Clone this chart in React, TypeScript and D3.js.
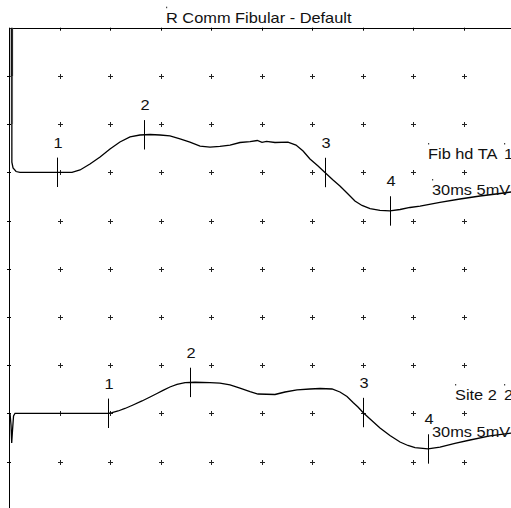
import React from "react";
import { scaleLinear, line, range } from "d3";

// time (ms) and amplitude (mV, relative to baseline)
const topTimes = [1.7, 1.7, 2.4, 4.2, 6.5, 37.4, 42.2, 48.1, 54.1, 60.0, 65.9, 71.9, 77.8, 83.8, 89.7, 95.6, 101.6, 107.5, 113.5, 119.4, 125.3, 131.3, 137.2, 143.2, 147.5, 150.3, 153.0, 158.0, 165.7, 170.5, 174.7, 178.8, 183.6, 187.7, 192.5, 196.6, 201.4, 205.5, 209.7, 214.5, 220.4, 226.3, 232.3, 238.2, 244.2, 256.0, 267.9, 279.8, 291.7, 300.6];
const topValues = [16, 1.06, 0.45, 0.08, 0, 0, 0.24, 0.86, 1.59, 2.42, 3.14, 3.67, 3.87, 3.92, 3.87, 3.77, 3.46, 3.14, 2.72, 2.62, 2.68, 2.83, 3.09, 3.19, 3.3, 3.1, 3.2, 3.09, 3.14, 2.83, 2.21, 1.38, 0.65, -0.02, -0.8, -1.42, -2.25, -2.98, -3.44, -3.76, -3.96, -4.01, -3.86, -3.65, -3.5, -3.13, -2.77, -2.46, -2.2, -1.99];

const bottomTimes = [0.6, 1.2, 1.6, 2.1, 2.7, 3.6, 58.8, 61.2, 64.8, 68.9, 73.7, 79.0, 83.8, 87.9, 91.5, 95.6, 99.8, 104.6, 110.5, 119.4, 125.3, 131.3, 137.2, 143.2, 147.9, 158.0, 164.0, 171.1, 178.8, 184.8, 191.9, 196.6, 200.8, 204.4, 207.3, 210.3, 214.5, 220.4, 226.3, 232.3, 237.0, 241.2, 248.9, 256.0, 264.9, 273.9, 285.7, 300.6];
const bottomValues = [0, -1.21, -3.08, -1.73, -0.28, 0, 0, 0.08, 0.24, 0.5, 0.86, 1.28, 1.69, 2.05, 2.37, 2.73, 2.99, 3.19, 3.22, 3.19, 3.14, 2.94, 2.62, 2.26, 2.0, 1.95, 2.21, 2.42, 2.52, 2.57, 2.52, 2.21, 1.74, 1.12, 0.65, 0.08, -0.59, -1.52, -2.3, -2.98, -3.34, -3.55, -3.7, -3.5, -3.13, -2.77, -2.35, -1.99];

const markerLabels = ["1", "2", "3", "4"];
const topMarkerTimes = [28.5, 80.2, 187.7, 226.3];
const bottomMarkerTimes = [58.8, 107.5, 210.3, 248.9];

const title = "R Comm Fibular - Default";
const topLabel = ["Fib hd TA", "1"];
const bottomLabel = ["Site 2", "2"];
const scaleLabel = "30ms 5mV";

const msPerDiv = 30;
const mvPerDiv = 5;
const divsX = 10;
const divsY = 10;

export default function App() {
  const W = 511;
  const H = 508;
  const left = 9;
  const top = 27.7;
  const cellW = 50.5;
  const cellH = 48.2;

  const x = scaleLinear().domain([0, divsX * msPerDiv]).range([left, left + divsX * cellW]);
  const row = scaleLinear().domain([0, divsY]).range([top, top + divsY * cellH]);
  const yFor = (baseRow: number) =>
    scaleLinear().domain([0, mvPerDiv]).range([row(baseRow), row(baseRow) - cellH]);

  const yTop = yFor(3);
  const yBot = yFor(8);

  const interp = (ts: number[], vs: number[], t: number) => {
    for (let i = 1; i < ts.length; i++) {
      if (ts[i] >= t && ts[i] > ts[i - 1]) {
        const f = (t - ts[i - 1]) / (ts[i] - ts[i - 1]);
        if (f >= 0) return vs[i - 1] + f * (vs[i] - vs[i - 1]);
      }
    }
    return vs[vs.length - 1];
  };

  const tracePath = (ts: number[], vs: number[], y: any) =>
    line<number>()
      .x((_, i) => x(ts[i]))
      .y((v) => y(v))(vs) as string;

  const stretch = 1.17;
  const font = "Arial, 'Liberation Sans', sans-serif";

  const Txt = (p: { x: number; y: number; t: string; anchor?: string; dot?: boolean }) => (
    <g transform={`translate(${p.x},${p.y})`}>
      {p.dot && <rect x={0} y={-16} width={1.2} height={1.5} fill="#444" />}
      <text transform={`scale(${stretch},1)`} fontSize={14} fontFamily={font} textAnchor={p.anchor || "start"} fill="#111">
        {p.t}
      </text>
    </g>
  );

  const markers = (times: number[], ts: number[], vs: number[], y: any) =>
    times.map((t, i) => {
      const cx = Math.round(x(t)) + 0.5;
      const cy = y(interp(ts, vs, t));
      return (
        <g key={i}>
          <line x1={cx} x2={cx} y1={cy - 14.7} y2={cy + 14.7} stroke="#000" strokeWidth={1} />
          <Txt x={cx - 4} y={cy - 24.7} t={markerLabels[i]} />
        </g>
      );
    });

  const cols = range(1, divsX);
  const rows = range(1, divsY + 1);

  return (
    <svg width={W} height={H} style={{ position: "absolute", left: 0, top: 0, background: "#fff" }}>
      <defs>
        <clipPath id="plot">
          <rect x={left} y={top} width={divsX * cellW} height={divsY * cellH} />
        </clipPath>
      </defs>

      {/* grid crosses */}
      {cols.map((c) =>
        rows.map((r) => {
          const cx = Math.round(left + c * cellW) + 0.5;
          const cy = Math.round(row(r)) + 0.5;
          return (
            <g key={`${c}-${r}`} stroke="#222" strokeWidth={1}>
              <line x1={cx - 2.5} x2={cx + 2.5} y1={cy} y2={cy} />
              <line x1={cx} x2={cx} y1={cy - 2.5} y2={cy + 2.5} />
            </g>
          );
        })
      )}

      {/* frame: top and left */}
      <line x1={left} x2={W} y1={Math.round(top) + 0.5} y2={Math.round(top) + 0.5} stroke="#000" />
      <line x1={left + 0.5} x2={left + 0.5} y1={top} y2={H} stroke="#000" />
      {cols.map((c) => {
        const cx = Math.round(left + c * cellW) + 0.5;
        return <line key={c} x1={cx} x2={cx} y1={top} y2={top + 3} stroke="#000" />;
      })}
      {rows.map((r) => {
        const cy = Math.round(row(r)) + 0.5;
        return <line key={r} x1={left - 2} x2={left + 2} y1={cy} y2={cy} stroke="#000" />;
      })}

      <g clipPath="url(#plot)">
        {/* stimulus artifact smear */}
        <line x1={x(topTimes[0])} x2={x(topTimes[0])} y1={row(0)} y2={row(1)} stroke="#555" strokeWidth={2.5} />
        <line x1={x(topTimes[0])} x2={x(topTimes[0])} y1={row(1)} y2={row(2)} stroke="#bbb" strokeWidth={2.5} />
        <path d={tracePath(topTimes, topValues, yTop)} fill="none" stroke="#000" strokeWidth={1.3} />
        <path d={tracePath(bottomTimes, bottomValues, yBot)} fill="none" stroke="#000" strokeWidth={1.3} />
        {markers(topMarkerTimes, topTimes, topValues, yTop)}
        {markers(bottomMarkerTimes, bottomTimes, bottomValues, yBot)}
      </g>

      <Txt x={166} y={22.7} t={title} dot />
      <Txt x={428} y={159} t={topLabel[0]} dot />
      <Txt x={504} y={159} t={topLabel[1]} dot />
      <Txt x={432} y={195} t={scaleLabel} dot />
      <Txt x={455} y={400} t={bottomLabel[0]} dot />
      <Txt x={504} y={400} t={bottomLabel[1]} dot />
      <Txt x={432} y={437} t={scaleLabel} />
    </svg>
  );
}
